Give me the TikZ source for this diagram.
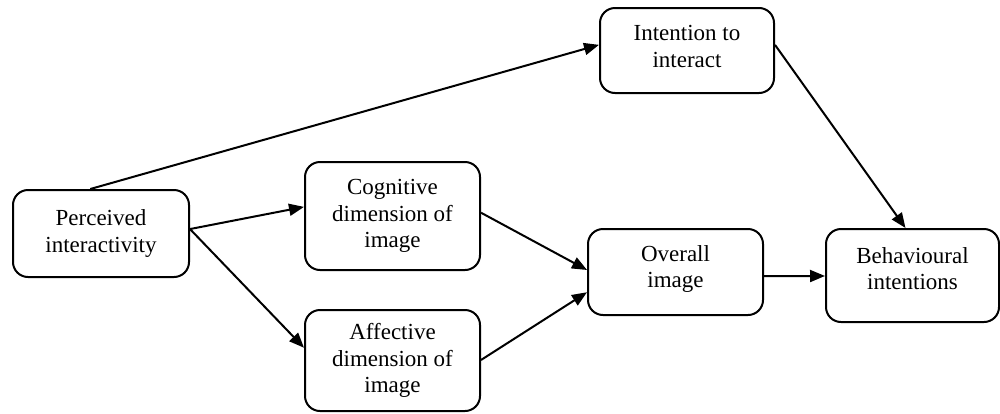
\documentclass[tikz,border=0pt]{standalone}
\usepackage{fontspec}
\setmainfont{Liberation Serif}
\usetikzlibrary{arrows.meta,calc}
\begin{document}
\begin{tikzpicture}[x=0.5pt,y=-0.5pt,
  box/.style={draw,line width=1pt,rounded corners=7.5pt,align=center,
    font={\fontsize{11.5}{13.2}\selectfont},inner sep=0pt},
  arr/.style={line width=1pt,-{Triangle[length=7.5pt,width=6pt]}}]
\useasboundingbox (0,0) rectangle (1000,413);
\node[box,minimum width=88pt,minimum height=43.5pt] (P) at (101,233.5) {Perceived\\interactivity};
\node[box,minimum width=87.5pt,minimum height=54pt] (C) at (392.5,216) {Cognitive\\dimension of\\image};
\node[box,minimum width=87.5pt,minimum height=50.5pt] (A) at (392.5,360.5) {Affective\\dimension of\\image};
\node[box,minimum width=87pt,minimum height=42.5pt,text depth=4pt] (I) at (687,50.5) {Intention to\\interact};
\node[box,minimum width=87.5pt,minimum height=43pt,text depth=5.5pt] (O) at (675.5,272) {Overall\\image};
\node[box,minimum width=86.5pt,minimum height=46.5pt,text depth=7pt] (B) at (912.5,275.5) {Behavioural\\intentions};
\coordinate (Pe) at ($(P.north east)!0.45!(P.south east)$);
\draw[arr] ($(P.north west)!0.44!(P.north east)$) -- ($(I.north west)!0.435!(I.south west)$);
\draw[arr] (Pe) -- ($(C.north west)!0.417!(C.south west)$);
\draw[arr] (Pe) -- ($(A.north west)!0.376!(A.south west)$);
\draw[arr] ($(C.north east)!0.47!(C.south east)$) -- ($(O.north west)!0.477!(O.south west)$);
\draw[arr] ($(A.north east)!0.495!(A.south east)$) -- ($(O.north west)!0.73!(O.south west)$);
\draw[arr] ($(O.north east)!0.547!(O.south east)$) -- ($(B.north west)!0.505!(B.south west)$);
\draw[arr] ($(I.north east)!0.435!(I.south east)$) -- ($(B.north west)!0.46!(B.north east)$);
\end{tikzpicture}
\end{document}
